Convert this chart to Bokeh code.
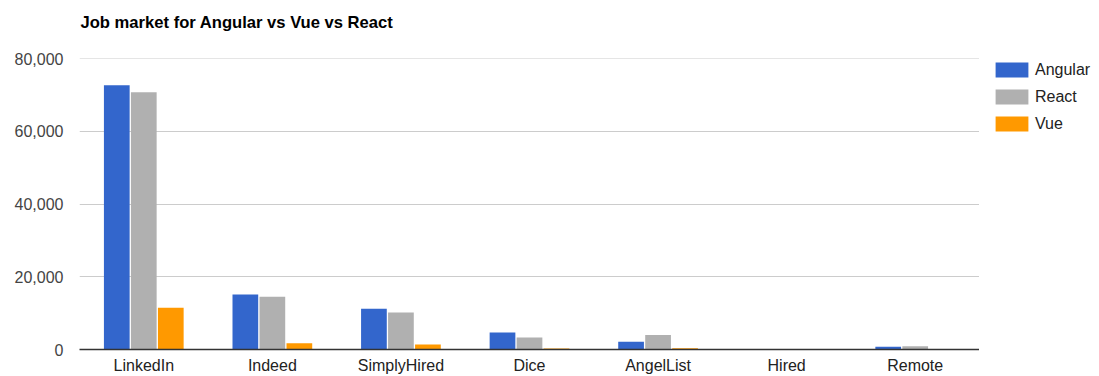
from bokeh.plotting import figure
from bokeh.models import ColumnDataSource, FactorRange, Legend, LegendItem, NumeralTickFormatter, FixedTicker, Range1d
from bokeh.layouts import row, column
from bokeh.transform import dodge
from bokeh.core.properties import value
from bokeh.embed import file_html
from bokeh.resources import INLINE

title = "Job market for Angular vs Vue vs React"
sites = ["LinkedIn", "Indeed", "SimplyHired", "Dice", "AngelList", "Hired", "Remote"]
series = ["Angular", "React", "Vue"]
angular = [72700, 15100, 11200, 4700, 2100, 0, 750]
react = [70800, 14500, 10200, 3300, 4000, 0, 900]
vue = [11500, 1750, 1400, 300, 350, 0, 0]
y_ticks = [0, 20000, 40000, 60000, 80000]
colors = ["#3366cc", "#b0b0b0", "#ff9900"]

FONT = "Liberation Sans"
FS = "16px"

src = ColumnDataSource(dict(site=sites, angular=angular, react=react, vue=vue))

# header with title
hdr = figure(width=1099, height=34, output_backend="svg", toolbar_location=None,
             x_range=Range1d(0, 1099), y_range=Range1d(34, 0),
             x_axis_type=None, y_axis_type=None, min_border=0, outline_line_color=None)
hdr.grid.visible = False
hdr.text(x=[80], y=[22], text=[title], text_font=value(FONT), text_font_size="16.6px",
         text_font_style="bold", text_color="#000000", text_baseline="middle", text_align="left")

p = figure(x_range=FactorRange(*sites), y_range=Range1d(0, 80060), width=979, height=342,
           output_backend="svg", toolbar_location=None,
           min_border_left=79, min_border_right=0, min_border_top=24, min_border_bottom=0)

for off, col, c in zip([-0.21, 0.0, 0.21], ["angular", "react", "vue"], colors):
    p.vbar(x=dodge("site", off, range=p.x_range), top=col, width=0.2, source=src,
           fill_color=c, line_color=None)

p.outline_line_color = None
p.xgrid.grid_line_color = None
p.ygrid.grid_line_color = "#cccccc"
p.ygrid.ticker = FixedTicker(ticks=y_ticks)

p.yaxis.ticker = FixedTicker(ticks=y_ticks)
p.yaxis.formatter = NumeralTickFormatter(format="0,0")
p.yaxis.axis_line_color = None
p.yaxis.major_tick_line_color = None
p.yaxis.minor_tick_line_color = None
p.yaxis.major_tick_out = 0
p.yaxis.major_tick_in = 0
p.yaxis.major_label_standoff = 16
p.yaxis.major_label_text_font = FONT
p.yaxis.major_label_text_font_size = FS
p.yaxis.major_label_text_color = "#444444"

p.xaxis.axis_line_color = "#333333"
p.xaxis.axis_line_width = 1.5
p.xaxis.major_tick_line_color = None
p.xaxis.minor_tick_line_color = None
p.xaxis.major_tick_out = 0
p.xaxis.major_tick_in = 0
p.xaxis.major_label_standoff = 7
p.xaxis.major_label_text_font = FONT
p.xaxis.major_label_text_font_size = FS
p.xaxis.major_label_text_color = "#222222"
p.x_range.range_padding = 0

# legend panel (renderers hidden; only the legend shows)
lg = figure(width=120, height=342, output_backend="svg", toolbar_location=None,
            x_range=FactorRange(*sites), y_range=Range1d(1e6, 2e6),
            x_axis_type=None, y_axis_type=None, min_border=0, outline_line_color=None)
lg.grid.visible = False
items = []
for name, col, c in zip(series, ["angular", "react", "vue"], colors):
    r = lg.vbar(x="site", top=col, width=0.2, source=src, fill_color=c, line_color=None)
    r.visible = False
    items.append(LegendItem(label=name, renderers=[r], index=0))
legend = Legend(items=items, location=(12, 216), margin=0, padding=0, spacing=8,
                glyph_width=41, glyph_height=19, label_height=19, label_standoff=3,
                label_text_font=FONT, label_text_font_size=FS, label_text_color="#222222",
                border_line_color=None, background_fill_alpha=0, click_policy="none")
lg.add_layout(legend)

layout = column(hdr, row(p, lg, spacing=0), spacing=0)
open("out.html", "w").write(file_html(layout, INLINE))
